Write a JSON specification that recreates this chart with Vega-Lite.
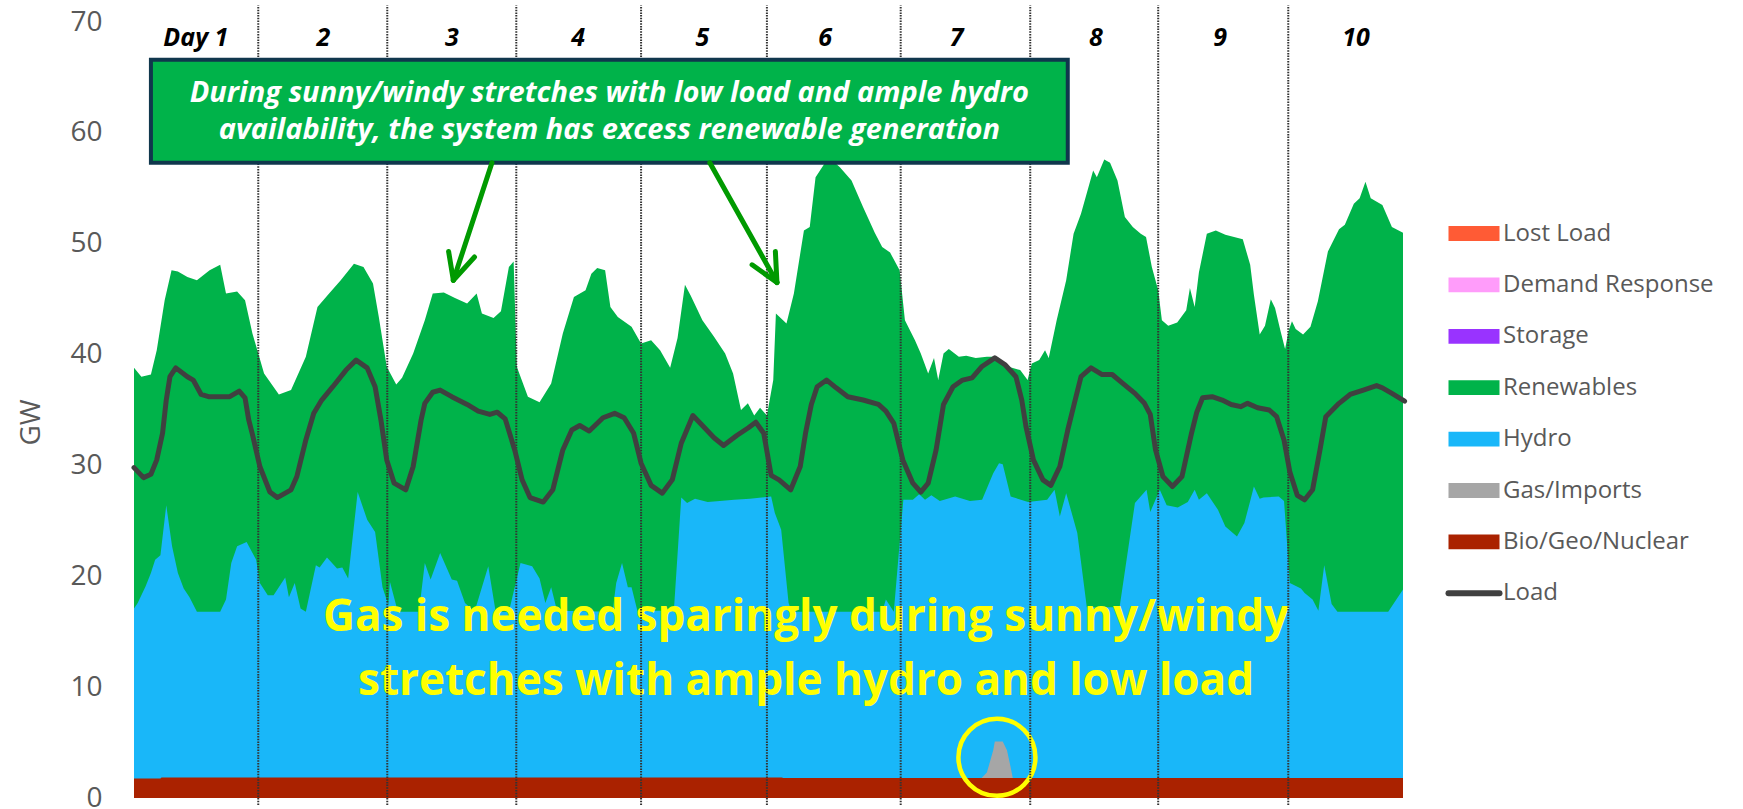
{
  "$schema": "https://vega.github.io/schema/vega-lite/v6.json",
  "width": 1269,
  "height": 776,
  "autosize": {"type": "none"},
  "padding": {"left": 134, "top": 22, "right": 340, "bottom": 11},
  "background": "white",
  "config": {"view": {"stroke": null}, "font": "Open Sans"},
  "datasets": {
    "ren": [
      {"h":0,"v":38.8},{"h":1.4,"v":38.0},{"h":3.2,"v":38.2},{"h":4.3,"v":40.4},{"h":5.8,"v":44.9},{"h":7.1,"v":47.6},{"h":8.3,"v":47.5},{"h":10.1,"v":47.0},{"h":11.9,"v":46.7},{"h":14.3,"v":47.6},{"h":16.3,"v":48.1},{"h":17.4,"v":45.5},{"h":19.5,"v":45.7},{"h":21.0,"v":44.9},{"h":22.4,"v":41.9},{"h":24.6,"v":38.3},{"h":27.4,"v":36.4},{"h":29.7,"v":36.8},{"h":32.5,"v":39.8},{"h":34.7,"v":44.3},{"h":36.9,"v":45.5},{"h":39.1,"v":46.7},{"h":41.6,"v":48.2},{"h":43.4,"v":47.9},{"h":45.2,"v":46.4},{"h":46.3,"v":43.4},{"h":47.8,"v":38.9},{"h":49.6,"v":37.3},{"h":50.7,"v":37.9},{"h":52.8,"v":40.1},{"h":55.0,"v":43.1},{"h":56.5,"v":45.5},{"h":58.6,"v":45.6},{"h":60.7,"v":45.1},{"h":63.0,"v":44.6},{"h":64.8,"v":45.5},{"h":65.8,"v":43.7},{"h":68.0,"v":43.3},{"h":69.4,"v":43.9},{"h":70.9,"v":47.9},{"h":71.8,"v":48.4},{"h":72.4,"v":38.9},{"h":74.5,"v":36.2},{"h":76.7,"v":35.7},{"h":78.9,"v":37.4},{"h":81.1,"v":41.9},{"h":83.2,"v":45.2},{"h":85.4,"v":45.8},{"h":86.5,"v":47.3},{"h":87.6,"v":47.8},{"h":89.1,"v":47.6},{"h":90.1,"v":44.3},{"h":91.5,"v":43.4},{"h":94.1,"v":42.5},{"h":95.9,"v":41.0},{"h":97.8,"v":41.3},{"h":99.5,"v":40.4},{"h":101.4,"v":38.8},{"h":102.8,"v":41.5},{"h":104.2,"v":46.3},{"h":105.3,"v":45.3},{"h":107.5,"v":43.1},{"h":109.7,"v":41.6},{"h":111.8,"v":40.1},{"h":113.3,"v":38.3},{"h":114.8,"v":35.0},{"h":116.1,"v":35.6},{"h":117.3,"v":34.5},{"h":118.4,"v":35.2},{"h":119.7,"v":34.5},{"h":120.9,"v":37.7},{"h":121.4,"v":43.7},{"h":123.4,"v":42.8},{"h":124.8,"v":45.5},{"h":126.7,"v":51.2},{"h":127.8,"v":51.5},{"h":128.9,"v":56.0},{"h":130.7,"v":57.3},{"h":132.1,"v":57.5},{"h":133.5,"v":56.9},{"h":135.7,"v":55.7},{"h":137.9,"v":53.3},{"h":140.1,"v":51.0},{"h":141.5,"v":49.7},{"h":143.0,"v":49.2},{"h":144.8,"v":47.6},{"h":145.8,"v":43.1},{"h":147.7,"v":41.3},{"h":148.8,"v":40.1},{"h":150.2,"v":38.3},{"h":151.3,"v":39.7},{"h":152.1,"v":37.7},{"h":153.1,"v":40.1},{"h":154.1,"v":40.5},{"h":156.0,"v":39.8},{"h":157.4,"v":39.9},{"h":159.2,"v":39.7},{"h":161.3,"v":39.8},{"h":163.2,"v":39.8},{"h":165.4,"v":38.9},{"h":167.6,"v":38.6},{"h":169.0,"v":37.7},{"h":169.8,"v":39.2},{"h":171.2,"v":39.5},{"h":172.3,"v":40.4},{"h":173.0,"v":39.7},{"h":174.5,"v":43.1},{"h":176.3,"v":46.7},{"h":177.7,"v":50.9},{"h":179.1,"v":52.7},{"h":181.4,"v":56.6},{"h":182.1,"v":56.0},{"h":183.5,"v":57.6},{"h":184.6,"v":57.3},{"h":186.0,"v":55.7},{"h":187.4,"v":52.4},{"h":188.9,"v":51.5},{"h":190.4,"v":50.9},{"h":191.4,"v":50.6},{"h":192.5,"v":47.9},{"h":193.7,"v":45.8},{"h":194.4,"v":43.1},{"h":195.6,"v":42.6},{"h":197.3,"v":42.9},{"h":199.0,"v":44.0},{"h":199.7,"v":46.0},{"h":200.6,"v":44.3},{"h":201.4,"v":47.4},{"h":202.9,"v":50.9},{"h":204.6,"v":51.2},{"h":206.4,"v":50.8},{"h":209.7,"v":50.4},{"h":211.1,"v":48.1},{"h":211.8,"v":45.4},{"h":212.9,"v":41.8},{"h":213.9,"v":42.6},{"h":215.0,"v":45.0},{"h":215.8,"v":44.2},{"h":216.8,"v":42.2},{"h":217.7,"v":40.5},{"h":218.4,"v":42.2},{"h":219.0,"v":43.0},{"h":219.7,"v":42.3},{"h":221.1,"v":41.8},{"h":222.5,"v":42.5},{"h":223.9,"v":44.8},{"h":225.8,"v":49.3},{"h":227.9,"v":51.3},{"h":229.0,"v":51.7},{"h":230.7,"v":53.6},{"h":231.8,"v":54.1},{"h":232.9,"v":55.6},{"h":233.9,"v":54.1},{"h":236.1,"v":53.5},{"h":237.9,"v":51.5},{"h":240,"v":51.0}
    ],
    "hyd": [
      {"h":0,"v":17.1},{"h":0.7,"v":17.6},{"h":2.2,"v":19.1},{"h":3.2,"v":20.3},{"h":4.0,"v":21.5},{"h":5.0,"v":21.9},{"h":6.1,"v":26.4},{"h":7.2,"v":22.7},{"h":8.3,"v":20.3},{"h":9.4,"v":18.9},{"h":10.5,"v":18.1},{"h":11.9,"v":16.8},{"h":16.3,"v":16.8},{"h":17.4,"v":17.9},{"h":18.4,"v":21.2},{"h":19.5,"v":22.7},{"h":21.3,"v":23.1},{"h":23.1,"v":21.5},{"h":23.8,"v":19.4},{"h":25.3,"v":18.3},{"h":26.4,"v":18.3},{"h":28.6,"v":19.9},{"h":29.3,"v":18.1},{"h":30.4,"v":19.4},{"h":31.5,"v":17.1},{"h":32.5,"v":16.8},{"h":34.4,"v":21.0},{"h":35.1,"v":20.8},{"h":36.5,"v":21.7},{"h":38.4,"v":20.7},{"h":39.4,"v":20.8},{"h":40.5,"v":19.8},{"h":42.3,"v":27.6},{"h":44.1,"v":25.1},{"h":45.6,"v":24.0},{"h":47.0,"v":19.0},{"h":48.1,"v":17.4},{"h":48.4,"v":19.5},{"h":49.9,"v":16.8},{"h":53.9,"v":16.8},{"h":55.0,"v":21.2},{"h":56.1,"v":19.7},{"h":57.9,"v":22.1},{"h":60.1,"v":19.7},{"h":61.1,"v":19.6},{"h":62.6,"v":17.6},{"h":64.4,"v":16.8},{"h":67.0,"v":20.9},{"h":68.4,"v":16.8},{"h":70.9,"v":16.8},{"h":73.1,"v":21.2},{"h":75.3,"v":20.9},{"h":76.7,"v":19.8},{"h":77.8,"v":17.6},{"h":78.9,"v":19.0},{"h":80.0,"v":16.9},{"h":90.5,"v":16.8},{"h":91.2,"v":19.4},{"h":92.3,"v":21.2},{"h":93.4,"v":19.0},{"h":94.1,"v":19.0},{"h":95.2,"v":16.9},{"h":102.1,"v":16.9},{"h":103.5,"v":27.1},{"h":104.6,"v":26.6},{"h":106.1,"v":27.0},{"h":108.5,"v":26.7},{"h":110.8,"v":26.8},{"h":113.5,"v":26.9},{"h":116.5,"v":27.0},{"h":120.5,"v":27.2},{"h":121.2,"v":25.7},{"h":122.4,"v":24.2},{"h":123.8,"v":17.6},{"h":124.4,"v":16.8},{"h":141.5,"v":16.8},{"h":142.2,"v":17.9},{"h":143.7,"v":16.8},{"h":145.5,"v":26.9},{"h":147.3,"v":26.9},{"h":148.5,"v":27.4},{"h":149.6,"v":26.9},{"h":150.8,"v":27.3},{"h":152.4,"v":26.8},{"h":155.3,"v":27.2},{"h":158.1,"v":26.8},{"h":160.4,"v":26.9},{"h":162.5,"v":29.3},{"h":163.6,"v":30.2},{"h":164.3,"v":30.1},{"h":165.8,"v":27.2},{"h":169.1,"v":26.7},{"h":172.7,"v":26.9},{"h":174.1,"v":27.8},{"h":175.1,"v":25.4},{"h":176.3,"v":27.5},{"h":178.4,"v":23.9},{"h":180.2,"v":17.2},{"h":186.4,"v":17.2},{"h":189.3,"v":26.6},{"h":191.5,"v":27.8},{"h":192.2,"v":25.8},{"h":194.0,"v":27.8},{"h":195.3,"v":26.4},{"h":197.4,"v":26.2},{"h":199.3,"v":26.7},{"h":200.6,"v":27.8},{"h":201.4,"v":26.9},{"h":202.9,"v":27.5},{"h":205.0,"v":26.0},{"h":206.4,"v":24.5},{"h":208.6,"v":23.6},{"h":210.0,"v":24.8},{"h":211.1,"v":26.8},{"h":211.8,"v":28.1},{"h":212.9,"v":27.0},{"h":213.6,"v":27.1},{"h":216.5,"v":27.2},{"h":217.5,"v":26.8},{"h":218.6,"v":19.4},{"h":220.7,"v":18.9},{"h":221.4,"v":18.5},{"h":222.9,"v":17.9},{"h":224.0,"v":16.9},{"h":225.1,"v":21.0},{"h":226.5,"v":17.5},{"h":227.6,"v":16.8},{"h":237.2,"v":16.8},{"h":240,"v":18.8}
    ],
    "gas": [
      {"h":160.3,"v":1.8},{"h":161.3,"v":2.3},{"h":161.9,"v":3.3},{"h":162.5,"v":4.3},{"h":162.8,"v":5.1},{"h":164.3,"v":5.1},{"h":165.1,"v":4.3},{"h":165.7,"v":3.0},{"h":166.2,"v":1.8}
    ],
    "bio": [
      {"h":0,"v":1.75},{"h":5.0,"v":1.75},{"h":5.2,"v":1.85},{"h":122.5,"v":1.85},{"h":122.8,"v":1.8},{"h":240,"v":1.8}
    ],
    "load": [
      {"h":0,"v":29.8},{"h":1.8,"v":28.9},{"h":3.2,"v":29.2},{"h":4.3,"v":30.5},{"h":5.4,"v":32.9},{"h":6.1,"v":35.9},{"h":6.8,"v":38.0},{"h":7.9,"v":38.8},{"h":10.1,"v":38.0},{"h":11.2,"v":37.7},{"h":12.7,"v":36.4},{"h":14.1,"v":36.2},{"h":18.1,"v":36.2},{"h":19.9,"v":36.7},{"h":21.0,"v":36.1},{"h":21.7,"v":34.1},{"h":22.4,"v":32.8},{"h":23.8,"v":29.9},{"h":25.7,"v":27.6},{"h":27.1,"v":27.1},{"h":29.7,"v":27.8},{"h":30.8,"v":29.0},{"h":32.5,"v":32.3},{"h":34.0,"v":34.7},{"h":35.5,"v":35.9},{"h":37.6,"v":37.1},{"h":40.1,"v":38.6},{"h":42.0,"v":39.5},{"h":44.1,"v":38.8},{"h":45.6,"v":37.1},{"h":46.7,"v":34.1},{"h":47.8,"v":30.5},{"h":49.2,"v":28.4},{"h":51.4,"v":27.8},{"h":52.8,"v":29.9},{"h":54.3,"v":34.1},{"h":55.0,"v":35.6},{"h":56.5,"v":36.6},{"h":57.9,"v":36.8},{"h":60.1,"v":36.2},{"h":63.0,"v":35.5},{"h":65.1,"v":34.9},{"h":67.3,"v":34.6},{"h":68.7,"v":34.8},{"h":70.2,"v":34.2},{"h":72.0,"v":31.4},{"h":73.4,"v":28.7},{"h":74.9,"v":27.1},{"h":77.4,"v":26.7},{"h":79.2,"v":27.8},{"h":81.1,"v":31.4},{"h":82.8,"v":33.2},{"h":84.3,"v":33.6},{"h":86.1,"v":33.1},{"h":88.7,"v":34.3},{"h":90.9,"v":34.7},{"h":92.7,"v":34.3},{"h":94.5,"v":32.9},{"h":95.9,"v":30.2},{"h":97.8,"v":28.2},{"h":99.9,"v":27.5},{"h":101.8,"v":28.7},{"h":103.5,"v":32.0},{"h":105.7,"v":34.5},{"h":107.5,"v":33.6},{"h":109.7,"v":32.5},{"h":111.5,"v":31.8},{"h":114.0,"v":32.7},{"h":116.2,"v":33.4},{"h":117.6,"v":33.9},{"h":119.1,"v":32.9},{"h":120.5,"v":29.1},{"h":122.0,"v":28.7},{"h":124.2,"v":27.8},{"h":126.0,"v":29.9},{"h":127.0,"v":32.9},{"h":128.1,"v":35.5},{"h":129.2,"v":37.1},{"h":131.0,"v":37.7},{"h":132.8,"v":37.0},{"h":135.0,"v":36.2},{"h":137.9,"v":35.9},{"h":140.8,"v":35.5},{"h":142.2,"v":34.9},{"h":143.7,"v":33.8},{"h":145.4,"v":30.5},{"h":147.3,"v":28.4},{"h":148.8,"v":27.6},{"h":150.2,"v":28.4},{"h":151.7,"v":31.4},{"h":153.1,"v":35.5},{"h":154.9,"v":37.1},{"h":156.7,"v":37.7},{"h":158.5,"v":37.9},{"h":160.3,"v":38.9},{"h":162.8,"v":39.7},{"h":164.7,"v":39.1},{"h":166.8,"v":38.0},{"h":167.9,"v":35.9},{"h":168.7,"v":33.5},{"h":170.1,"v":30.5},{"h":171.9,"v":28.7},{"h":173.4,"v":28.2},{"h":175.1,"v":29.9},{"h":176.6,"v":33.2},{"h":178.0,"v":35.9},{"h":179.1,"v":38.0},{"h":181.0,"v":38.8},{"h":183.1,"v":38.2},{"h":185.0,"v":38.2},{"h":187.0,"v":37.4},{"h":189.3,"v":36.5},{"h":191.1,"v":35.6},{"h":192.2,"v":34.6},{"h":193.2,"v":31.4},{"h":194.6,"v":29.0},{"h":196.4,"v":28.1},{"h":198.2,"v":29.0},{"h":200.0,"v":32.9},{"h":201.0,"v":34.8},{"h":202.1,"v":36.1},{"h":203.9,"v":36.2},{"h":205.8,"v":35.9},{"h":207.5,"v":35.5},{"h":209.3,"v":35.3},{"h":210.6,"v":35.6},{"h":212.5,"v":35.2},{"h":214.7,"v":35.0},{"h":216.1,"v":34.4},{"h":217.5,"v":32.3},{"h":218.6,"v":29.4},{"h":220.0,"v":27.3},{"h":221.4,"v":26.9},{"h":222.9,"v":27.8},{"h":224.3,"v":31.4},{"h":225.4,"v":34.4},{"h":227.9,"v":35.6},{"h":230.0,"v":36.4},{"h":232.5,"v":36.8},{"h":235.0,"v":37.2},{"h":236.1,"v":37.0},{"h":237.9,"v":36.5},{"h":240.3,"v":35.8}
    ],
    "days": [
      {"h":11.7,"label":"Day 1"},{"h":35.8,"label":"2"},{"h":60.1,"label":"3"},{"h":84.0,"label":"4"},{"h":107.5,"label":"5"},{"h":130.7,"label":"6"},{"h":155.6,"label":"7"},{"h":181.9,"label":"8"},{"h":205.4,"label":"9"},{"h":231.1,"label":"10"}
    ],
    "div": [
      {"h":23.5},{"h":47.9},{"h":72.3},{"h":95.9},{"h":119.7},{"h":145.0},{"h":169.5},{"h":193.7},{"h":218.3}
    ],
    "one": [{"k": 1}]
  },
  "layer": [
    {
      "data": {"name": "ren"},
      "mark": {"type": "area", "interpolate": "linear"},
      "encoding": {
        "x": {"field": "h", "type": "quantitative", "scale": {"domain": [0, 240], "nice": false, "zero": false}, "axis": null},
        "y": {"field": "v", "type": "quantitative", "stack": null,
          "scale": {"domain": [0, 70], "nice": false},
          "axis": {"values": [0,10,20,30,40,50,60,70], "domain": false, "ticks": false, "grid": false,
            "labelFont": "Open Sans", "labelFontSize": 28, "labelColor": "#595959", "labelPadding": 32,
            "title": "GW", "titleFont": "Open Sans", "titleFontSize": 28, "titleFontWeight": "normal", "titleColor": "#595959",
            "titleX": -103, "titleY": 400, "titleAngle": -90, "titleBaseline": "middle", "titleAlign": "center"}},
        "color": {"datum": "Renewables", "type": "nominal",
          "scale": {"domain": ["Lost Load","Demand Response","Storage","Renewables","Hydro","Gas/Imports","Bio/Geo/Nuclear","Load"],
                    "range": ["#FF5B35","#FF9CFA","#9933FF","#00B34A","#19B7F9","#A6A6A6","#AA2200","#404040"]},
          "legend": {"orient": "none", "legendX": 1328, "legendY": 199.5, "title": null, "padding": 0,
            "labelFont": "Open Sans", "labelFontSize": 24, "labelColor": "#595959", "labelOffset": 17, "labelLimit": 0,
            "symbolSize": 2601, "rowPadding": 27.4, "symbolStrokeWidth": 0, "symbolOpacity": 1,
            "encode": {"symbols": {"update": {
              "shape": {"signal": "datum.value === 'Load' ? 'M-1,0H1' : 'M-1,-0.29H1V0.29H-1Z'"},
              "fill": {"signal": "datum.value === 'Load' ? 'transparent' : scale('color', datum.value)"},
              "stroke": {"signal": "datum.value === 'Load' ? '#404040' : 'transparent'"},
              "strokeWidth": {"signal": "datum.value === 'Load' ? 6 : 0"},
              "strokeCap": {"value": "round"},
              "size": {"value": 2601},
              "opacity": {"value": 1}
            }}}}
        }
      }
    },
    {
      "data": {"name": "hyd"},
      "mark": {"type": "area", "interpolate": "linear"},
      "encoding": {"x": {"field": "h", "type": "quantitative"}, "y": {"field": "v", "type": "quantitative", "stack": null}, "color": {"datum": "Hydro", "type": "nominal"}}
    },
    {
      "data": {"name": "gas"},
      "mark": {"type": "area", "interpolate": "linear"},
      "encoding": {"x": {"field": "h", "type": "quantitative"}, "y": {"field": "v", "type": "quantitative", "stack": null}, "color": {"datum": "Gas/Imports", "type": "nominal"}}
    },
    {
      "data": {"name": "bio"},
      "mark": {"type": "area", "interpolate": "linear"},
      "encoding": {"x": {"field": "h", "type": "quantitative"}, "y": {"field": "v", "type": "quantitative", "stack": null}, "color": {"datum": "Bio/Geo/Nuclear", "type": "nominal"}}
    },
    {
      "data": {"name": "one"},
      "mark": {"type": "text", "text": "Gas is needed sparingly during sunny/windy", "font": "Open Sans", "fontWeight": "bold", "fontSize": 44, "color": "#FFFF00", "align": "center", "baseline": "middle"},
      "encoding": {"x": {"datum": 127.1, "type": "quantitative"}, "y": {"datum": 16.2, "type": "quantitative"}}
    },
    {
      "data": {"name": "one"},
      "mark": {"type": "text", "text": "stretches with ample hydro and low load", "font": "Open Sans", "fontWeight": "bold", "fontSize": 44, "color": "#FFFF00", "align": "center", "baseline": "middle"},
      "encoding": {"x": {"datum": 127.1, "type": "quantitative"}, "y": {"datum": 10.5, "type": "quantitative"}}
    },
    {
      "data": {"name": "one"},
      "mark": {"type": "point", "shape": "circle", "size": 5929, "filled": false, "stroke": "#FFFF00", "strokeWidth": 4.5, "opacity": 1},
      "encoding": {"x": {"datum": 163.2, "type": "quantitative"}, "y": {"datum": 3.67, "type": "quantitative"}}
    },
    {
      "data": {"name": "div"},
      "mark": {"type": "rule", "color": "#333333", "strokeWidth": 2, "strokeDash": [1.5, 1.2]},
      "encoding": {"x": {"field": "h", "type": "quantitative"}, "y": {"datum": -0.63, "type": "quantitative"}, "y2": {"datum": 71.5}}
    },
    {
      "data": {"name": "load"},
      "mark": {"type": "line", "strokeWidth": 5, "strokeCap": "round", "strokeJoin": "round", "interpolate": "linear"},
      "encoding": {"x": {"field": "h", "type": "quantitative"}, "y": {"field": "v", "type": "quantitative"}, "color": {"datum": "Load", "type": "nominal"}}
    },
    {
      "data": {"name": "one"},
      "mark": {"type": "rect", "fill": "#00B34A", "stroke": "#10374D", "strokeWidth": 4},
      "encoding": {"x": {"datum": 3.2, "type": "quantitative"}, "x2": {"datum": 176.6}, "y": {"datum": 66.6, "type": "quantitative"}, "y2": {"datum": 57.3}}
    },
    {
      "data": {"name": "one"},
      "mark": {"type": "text", "text": "During sunny/windy stretches with low load and ample hydro", "font": "Open Sans", "fontWeight": "bold", "fontStyle": "italic", "fontSize": 29, "color": "white", "align": "center", "baseline": "middle"},
      "encoding": {"x": {"datum": 89.9, "type": "quantitative"}, "y": {"datum": 63.6, "type": "quantitative"}}
    },
    {
      "data": {"name": "one"},
      "mark": {"type": "text", "text": "availability, the system has excess renewable generation", "font": "Open Sans", "fontWeight": "bold", "fontStyle": "italic", "fontSize": 29, "color": "white", "align": "center", "baseline": "middle"},
      "encoding": {"x": {"datum": 89.9, "type": "quantitative"}, "y": {"datum": 60.26, "type": "quantitative"}}
    },
    {
      "data": {"name": "one"},
      "mark": {"type": "rule", "color": "#009A00", "strokeWidth": 5, "strokeCap": "round"},
      "encoding": {"x": {"datum": 67.7, "type": "quantitative"}, "y": {"datum": 57.3, "type": "quantitative"}, "x2": {"datum": 60.4}, "y2": {"datum": 46.7}}
    },
    {
      "data": {"name": "one"},
      "mark": {"type": "rule", "color": "#009A00", "strokeWidth": 5, "strokeCap": "round"},
      "encoding": {"x": {"datum": 59.5, "type": "quantitative"}, "y": {"datum": 49.3, "type": "quantitative"}, "x2": {"datum": 60.4}, "y2": {"datum": 46.7}}
    },
    {
      "data": {"name": "one"},
      "mark": {"type": "rule", "color": "#009A00", "strokeWidth": 5, "strokeCap": "round"},
      "encoding": {"x": {"datum": 64.4, "type": "quantitative"}, "y": {"datum": 48.8, "type": "quantitative"}, "x2": {"datum": 60.4}, "y2": {"datum": 46.7}}
    },
    {
      "data": {"name": "one"},
      "mark": {"type": "rule", "color": "#009A00", "strokeWidth": 5, "strokeCap": "round"},
      "encoding": {"x": {"datum": 108.9, "type": "quantitative"}, "y": {"datum": 57.3, "type": "quantitative"}, "x2": {"datum": 121.6}, "y2": {"datum": 46.5}}
    },
    {
      "data": {"name": "one"},
      "mark": {"type": "rule", "color": "#009A00", "strokeWidth": 5, "strokeCap": "round"},
      "encoding": {"x": {"datum": 116.9, "type": "quantitative"}, "y": {"datum": 48.1, "type": "quantitative"}, "x2": {"datum": 121.6}, "y2": {"datum": 46.5}}
    },
    {
      "data": {"name": "one"},
      "mark": {"type": "rule", "color": "#009A00", "strokeWidth": 5, "strokeCap": "round"},
      "encoding": {"x": {"datum": 121.3, "type": "quantitative"}, "y": {"datum": 49.3, "type": "quantitative"}, "x2": {"datum": 121.6}, "y2": {"datum": 46.5}}
    },
    {
      "data": {"name": "days"},
      "mark": {"type": "text", "font": "Open Sans", "fontWeight": "bold", "fontStyle": "italic", "fontSize": 25, "color": "black", "align": "center", "baseline": "middle"},
      "encoding": {"x": {"field": "h", "type": "quantitative"}, "y": {"datum": 68.6, "type": "quantitative"}, "text": {"field": "label", "type": "nominal"}}
    }
  ]
}
